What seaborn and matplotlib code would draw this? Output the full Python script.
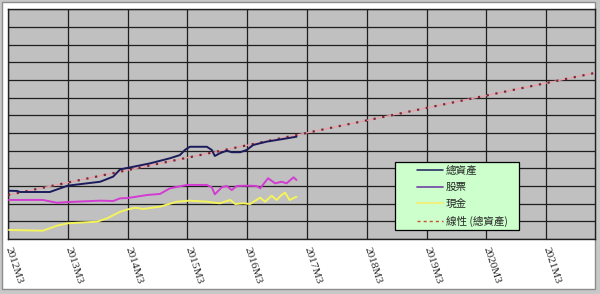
import matplotlib
matplotlib.use("Agg")
import matplotlib.pyplot as plt
from matplotlib.lines import Line2D
from matplotlib.patches import Rectangle
import seaborn as sns
import pandas as pd

# ---- data (months since 2012M3, values in grid units) ----
total_m = [0.2, 1.8, 2.4, 8.4, 12.0, 18.5, 21.1, 22.5, 24.1, 28.5, 32.5, 34.5, 35.5, 36.5,
           39.9, 40.9, 41.5, 42.5, 43.9, 44.9, 46.6, 47.9, 49.2, 51.9, 55.2, 57.9]
total_v = [2.73, 2.72, 2.66, 2.66, 3.02, 3.24, 3.53, 3.94, 4.03, 4.28, 4.57, 4.75, 5.04, 5.22,
           5.22, 5.04, 4.70, 4.85, 5.00, 4.91, 4.91, 5.04, 5.32, 5.51, 5.66, 5.79]

stock_m = [0.2, 7.0, 9.8, 12.0, 18.5, 21.1, 22.5, 24.1, 27.9, 30.5, 32.5, 35.9, 39.9, 40.9,
           41.5, 42.9, 43.9, 44.9, 45.9, 47.9, 49.9, 50.6, 52.2, 53.6, 54.9, 55.9, 57.3, 57.9]
stock_v = [2.21, 2.21, 2.05, 2.09, 2.17, 2.15, 2.30, 2.32, 2.49, 2.55, 2.87, 3.06, 3.06, 2.93,
           2.53, 2.93, 3.00, 2.77, 3.00, 3.02, 3.00, 2.87, 3.44, 3.15, 3.24, 3.15, 3.49, 3.34]

cash_m = [0.2, 7.0, 8.4, 9.8, 12.0, 17.9, 19.9, 22.5, 24.1, 25.5, 27.1, 30.5, 33.9, 36.5,
          39.9, 42.5, 44.6, 45.6, 47.2, 48.6, 50.6, 51.6, 52.9, 53.9, 54.9, 55.6, 56.5, 57.9]
cash_v = [0.51, 0.47, 0.61, 0.75, 0.89, 0.98, 1.17, 1.54, 1.68, 1.77, 1.70, 1.83, 2.11, 2.17,
          2.11, 2.02, 2.21, 1.98, 2.02, 1.98, 2.34, 2.11, 2.45, 2.21, 2.49, 2.62, 2.21, 2.39]

trend_m = [0.0, 117.8]
trend_v = [2.49, 9.40]

tick_months = [0, 12, 24, 36, 48, 60, 72, 84, 96, 108]
tick_labels = ["2012M3", "2013M3", "2014M3", "2015M3", "2016M3",
               "2017M3", "2018M3", "2019M3", "2020M3", "2021M3"]

series_names = ["總資產", "股票", "現金", "線性 (總資產)"]

# ---- style ----
sns.set_theme(style="white")
plt.rcParams['font.family'] = ['Noto Sans CJK TC', 'DejaVu Sans']

W, H = 600, 294
fig = plt.figure(figsize=(W / 100, H / 100), dpi=100, facecolor="#c8c8c8")

# white chart area
fig.patches.append(Rectangle((2 / W, 1 - 289 / H), (595 - 2) / W, (289 - 2) / H,
                             transform=fig.transFigure, facecolor="white",
                             edgecolor="#8c8c8c", lw=1.0, zorder=-10))

ax = fig.add_axes([8 / W, 1 - 239 / H, (595 - 8) / W, (239 - 9.3) / H])
ax.set_facecolor("#c0c0c0")

df = pd.concat([
    pd.DataFrame({"month": total_m, "value": total_v, "series": series_names[0]}),
    pd.DataFrame({"month": stock_m, "value": stock_v, "series": series_names[1]}),
    pd.DataFrame({"month": cash_m, "value": cash_v, "series": series_names[2]}),
])
palette = {series_names[0]: "#1c1c5c", series_names[1]: "#d23cd2", series_names[2]: "#f4f45a"}

# trend line (pink underlay + dark dots)
tdf = pd.DataFrame({"month": trend_m, "value": trend_v})
sns.lineplot(data=tdf, x="month", y="value", ax=ax, color="#e6a2aa", lw=0.9,
             legend=False, zorder=3)
sns.lineplot(data=tdf, x="month", y="value", ax=ax, color="#7a2838", lw=1.6,
             linestyle=(0, (1, 3.0)), legend=False, zorder=3)

sns.lineplot(data=df, x="month", y="value", hue="series", palette=palette, ax=ax,
             estimator=None, sort=True, lw=1.4, legend=False, zorder=4)

ax.set_xlim(0, 117.8)
ax.set_ylim(0, 13)
ax.set_yticks(range(0, 14))
ax.set_yticklabels([])
ax.set_xticks(tick_months)
ax.set_xticklabels(tick_labels, rotation=-72, ha="left", va="center",
                   rotation_mode="anchor", fontsize=8.2, family="Liberation Serif")
ax.tick_params(axis="x", length=0, pad=6)
ax.tick_params(axis="y", length=0)
ax.grid(True, color="#1e1e1e", lw=0.9)
ax.set_xlabel("")
ax.set_ylabel("")
for s in ax.spines.values():
    s.set_color("#202020")
    s.set_linewidth(1.0)

# legend box
ax.add_patch(Rectangle((0.660, 0.039), 0.211, 0.2975, transform=ax.transAxes,
                       facecolor="#ccffcc", edgecolor="black", lw=0.9, zorder=6))
handles = [
    Line2D([], [], color="#1c1c5c", lw=1.1),
    Line2D([], [], color="#7a50a8", lw=1.3),
    Line2D([], [], color="#f0f080", lw=1.5),
    Line2D([], [], color="#c85030", lw=1.0, linestyle=(0, (2.2, 2.2))),
]
leg = ax.legend(handles, series_names, loc="upper left",
                bbox_to_anchor=((416.7 - 8) / 587, (239 - 165.5) / 229.7),
                frameon=False, borderpad=0, borderaxespad=0, handlelength=2.5,
                handletextpad=0.25, labelspacing=0.62, fontsize=7.6)
leg.set_zorder(7)

fig.savefig("out.png", dpi=100, facecolor=fig.get_facecolor())
